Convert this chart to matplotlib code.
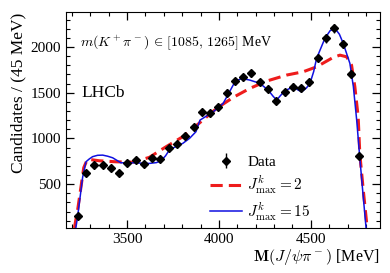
import matplotlib
matplotlib.use('Agg')
import matplotlib.pyplot as plt
from matplotlib.ticker import MultipleLocator
import numpy as np

plt.rcParams['font.family'] = ['Liberation Serif', 'DejaVu Serif']
plt.rcParams['mathtext.fontset'] = 'cm'

# data points, 45 MeV bins
mass = [3232, 3277, 3322, 3367, 3412, 3457, 3502, 3547, 3592, 3637,
        3682, 3727, 3772, 3817, 3862, 3907, 3952, 3997, 4042, 4087,
        4132, 4177, 4222, 4267, 4312, 4357, 4402, 4447, 4492, 4537,
        4582, 4627, 4672, 4717, 4762]
counts = [153, 624, 711, 705, 672, 624, 733, 768, 719, 782,
          776, 892, 940, 1031, 1127, 1288, 1273, 1342, 1499, 1624,
          1668, 1711, 1613, 1545, 1411, 1504, 1564, 1548, 1613, 1876,
          2094, 2204, 2036, 1707, 810]
errors = np.sqrt(counts)

# fit with J^k_max = 2
m_j2 = [3214, 3232, 3250, 3265, 3280, 3295, 3350, 3440, 3531, 3621,
        3712, 3803, 3895, 3987, 4078, 4168, 4259, 4368, 4458, 4531,
        4621, 4658, 4694, 4721, 4739, 4757, 4766, 4785, 4806]
y_j2 = [20, 220, 470, 680, 750, 770, 755, 744, 740, 792,
        908, 1018, 1170, 1328, 1449, 1547, 1627, 1693, 1729, 1783,
        1886, 1911, 1893, 1802, 1565, 1236, 830, 430, 20]

# fit with J^k_max = 15
m_j15 = [3222, 3232, 3259, 3277, 3295, 3313, 3340, 3368, 3395, 3422,
         3445, 3467, 3531, 3621, 3660, 3685, 3710, 3730, 3770, 3803,
         3840, 3875, 3897, 3969, 4023, 4055, 4087, 4123, 4168, 4223,
         4268, 4295, 4314, 4335, 4359, 4404, 4430, 4449, 4475, 4495,
         4515, 4531, 4576, 4605, 4631, 4655, 4676, 4712, 4731, 4749,
         4765, 4782, 4800]
y_j15 = [20, 150, 575, 744, 775, 800, 815, 817, 805, 788,
         760, 733, 733, 726, 735, 755, 810, 872, 915, 945,
         1000, 1073, 1200, 1291, 1383, 1500, 1619, 1656, 1638, 1602,
         1528, 1460, 1419, 1470, 1521, 1565, 1530, 1510, 1550, 1602,
         1730, 1875, 2094, 2180, 2203, 2140, 2039, 1821, 1565, 1200,
         810, 420, 20]

fig = plt.figure(figsize=(3.9, 2.73), dpi=100)
ax = fig.add_axes([0.169, 0.165, 0.805, 0.79])

h_data = ax.errorbar(mass, counts, yerr=errors, fmt='D', color='black', ms=4,
                     elinewidth=1, capsize=0, zorder=5)
h_j2, = ax.plot(m_j2, y_j2, color='#ee1c1c', lw=2.2, dashes=(4, 2))
h_j15, = ax.plot(m_j15, y_j15, color='#1010e0', lw=1.1)

ax.set_xlim(3168, 4875)
ax.set_ylim(20, 2380)
ax.xaxis.set_major_locator(MultipleLocator(500))
ax.xaxis.set_minor_locator(MultipleLocator(100))
ax.yaxis.set_major_locator(MultipleLocator(500))
ax.yaxis.set_minor_locator(MultipleLocator(100))
ax.tick_params(which='both', direction='in', top=True, right=True,
               labelsize=11)
ax.tick_params(which='major', length=6, width=0.9)
ax.tick_params(which='minor', length=3, width=0.8)

ax.set_xlabel(r'$\mathbf{M}(J/\psi\pi^-)$ [MeV]', fontsize=11.5, loc='right',
              labelpad=1)
ax.set_ylabel('Candidates / (45 MeV)', fontsize=12.5, loc='top', labelpad=3)

ax.text(0.045, 0.86, r'$m(K^+\pi^-)\,\in\,[1085,\,1265]$ MeV',
        transform=ax.transAxes, fontsize=10, va='center')
ax.text(0.05, 0.625, 'LHCb', transform=ax.transAxes, fontsize=12.5,
        va='center')

ax.legend([h_data, h_j2, h_j15],
          ['Data', r'$J^k_{\rm max} = 2$', r'$J^k_{\rm max} = 15$'],
          loc='upper left', bbox_to_anchor=(0.415, 0.4), frameon=False,
          fontsize=11, handlelength=2.1, handletextpad=0.35,
          labelspacing=0.3)

fig.savefig('out.png', dpi=100)
